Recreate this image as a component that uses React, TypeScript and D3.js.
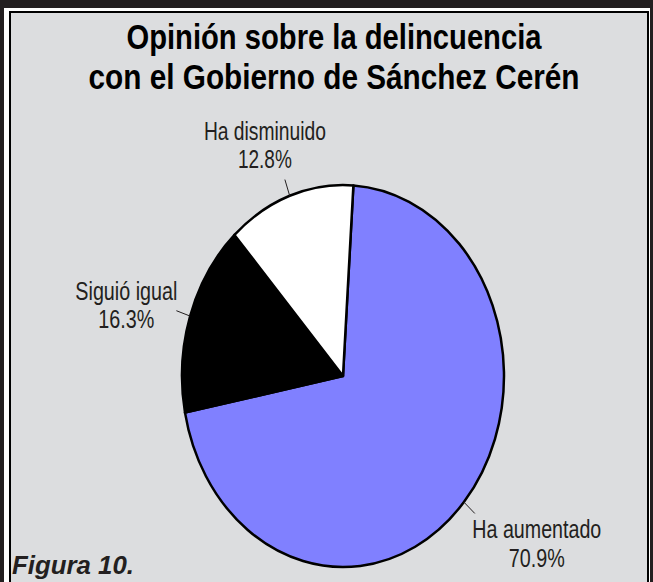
import * as d3 from "d3";

// chart data
const categories = ["Ha aumentado", "Siguió igual", "Ha disminuido"];
const values = [70.9, 16.3, 12.8];
const valueLabels = ["70.9%", "16.3%", "12.8%"];
const colors = ["#8080ff", "#000000", "#ffffff"];
const titleLines = ["Opinión sobre la delincuencia", "con el Gobierno de Sánchez Cerén"];
const figureLabel = "Figura 10.";

const W = 653;
const H = 582;
const cx = 343;
const cy = 376;
const rx = 161;
const ry = 191;
const startOffset = (3.7 * Math.PI) / 180;

// label placement relative to the outer end of each leader line
const labelOffsets: [number, number][] = [
  [62, 25],
  [-50, -11],
  [-20, -40],
];
const labelWidths = [129, 102, 122];
const valueWidths = [56, 56, 54];
const titleWidths = [415, 491];
const titleSqueeze = 0.82; // condensed look of the original face

const font = "'Liberation Sans Narrow', 'Liberation Sans', Arial, sans-serif";

export default function App() {
  const pie = d3
    .pie<number>()
    .sort(null)
    .startAngle(startOffset)
    .endAngle(startOffset + 2 * Math.PI);
  const arcs = pie(values);
  const arc = d3.arc<d3.PieArcDatum<number>>().innerRadius(0).outerRadius(rx);

  const onEllipse = (a: number, k: number) => [
    cx + rx * k * Math.sin(a),
    cy - ry * k * Math.cos(a),
  ];

  return (
    <svg
      width={W}
      height={H}
      style={{ position: "absolute", left: 0, top: 0, display: "block" }}
    >
      <rect x={0} y={0} width={W} height={H} fill="#231f20" />
      <rect x={4} y={8} width={646} height={H} fill="#ffffff" />
      <rect x={10} y={12} width={638} height={H} fill="#dcdddf" stroke="#000" strokeWidth={2} />

      {titleLines.map((t, i) => (
        <g key={t} transform={`translate(334,${49 + i * 40}) scale(${titleSqueeze},1)`}>
          <text
            x={0}
            y={0}
            textAnchor="middle"
            fontFamily={font}
            fontWeight="bold"
            fontSize={36}
            textLength={titleWidths[i] / titleSqueeze}
            lengthAdjust="spacingAndGlyphs"
            fill="#000"
          >
            {t}
          </text>
        </g>
      ))}

      <g transform={`translate(${cx},${cy}) scale(1,${ry / rx})`}>
        {arcs.map((d, i) => (
          <path
            key={categories[i]}
            d={arc(d) || ""}
            fill={colors[i]}
            stroke="#000"
            strokeWidth={2.5}
            strokeLinejoin="round"
            vectorEffect="non-scaling-stroke"
          />
        ))}
      </g>

      {arcs.map((d, i) => {
        const mid = (d.startAngle + d.endAngle) / 2;
        const [x1, y1] = onEllipse(mid, 1.0);
        const [x2, y2] = onEllipse(mid, 1.09);
        const lx = x2 + labelOffsets[i][0];
        const ly = y2 + labelOffsets[i][1];
        return (
          <g key={categories[i]}>
            <line x1={x1} y1={y1} x2={x2} y2={y2} stroke="#231f20" strokeWidth={1} />
            <text
              x={lx}
              y={ly}
              textAnchor="middle"
              fontFamily={font}
              fontSize={25}
              fill="#231f20"
              textLength={labelWidths[i]}
              lengthAdjust="spacingAndGlyphs"
            >
              {categories[i]}
            </text>
            <text
              x={lx}
              y={ly + 28.5}
              textAnchor="middle"
              fontFamily={font}
              fontSize={25}
              fill="#231f20"
              textLength={valueWidths[i]}
              lengthAdjust="spacingAndGlyphs"
            >
              {valueLabels[i]}
            </text>
          </g>
        );
      })}

      <text
        x={12}
        y={574}
        fontFamily={font}
        fontWeight="bold"
        fontStyle="italic"
        fontSize={26}
        fill="#231f20"
        textLength={122}
        lengthAdjust="spacingAndGlyphs"
      >
        {figureLabel}
      </text>
    </svg>
  );
}
